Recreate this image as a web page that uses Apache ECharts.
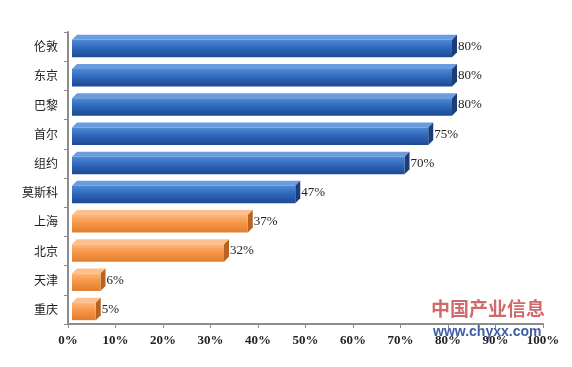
<!DOCTYPE html>
<html><head><meta charset="utf-8">
<script src="https://cdn.jsdelivr.net/npm/echarts@6/dist/echarts.min.js"></script>
<style>html,body{margin:0;padding:0;background:#fff}#c{width:572px;height:367px}</style>
</head><body><div id="c"></div>
<script>
const categories = ['伦敦','东京','巴黎','首尔','组约','莫斯科','上海','北京','天津','重庆'];
const values = [80, 80, 80, 75, 70, 47, 37, 32, 6, 5];
const groups = ['blue','blue','blue','blue','blue','blue','orange','orange','orange','orange'];
const xTicks = ['0%','10%','20%','30%','40%','50%','60%','70%','80%','90%','100%'];

const palette = {
  blue: {front: ['#4f8ad6','#2f68bc','#1d4a92'], top: '#6a9de0', side: '#1b3d78'},
  orange: {front: ['#fcb77c','#f79646','#e07e30'], top: '#fdc08c', side: '#b8631f'}
};
const chart = echarts.init(document.getElementById('c'));
const serif = '"Liberation Serif","Noto Sans CJK SC",serif';
chart.setOption({
  animation: false,
  grid: {left: 68, right: 29, top: 32, bottom: 43, containLabel: false},
  xAxis: {
    type: 'value', min: 0, max: 100, interval: 10,
    axisLine: {show: true, lineStyle: {color: '#8c8c8c', width: 2}},
    axisTick: {show: true, length: 4, lineStyle: {color: '#8c8c8c'}},
    splitLine: {show: false},
    axisLabel: {formatter: v => xTicks[Math.round(v / 10)], color: '#222', fontFamily: serif, fontWeight: 'bold', fontSize: 13, margin: 10}
  },
  yAxis: {
    type: 'category', data: categories, inverse: true,
    axisLine: {show: true, lineStyle: {color: '#8c8c8c', width: 2}},
    axisTick: {show: true, length: 4, lineStyle: {color: '#8c8c8c'}},
    axisLabel: {color: '#222', fontFamily: '"Noto Sans CJK SC",serif', fontSize: 12, margin: 10}
  },
  series: [{
    type: 'custom',
    data: values.map((v, i) => [v, i]),
    encode: {x: 0, y: 1},
    renderItem: function (params, api) {
      const idx = api.value(1);
      const val = api.value(0);
      const p0 = api.coord([0, idx]);
      const p1 = api.coord([val, idx]);
      const band = api.size([0, 1])[1];
      const d = 5, off = 4;
      const h = band * 0.6;
      const xa = p0[0] + off, xb = p1[0] + off;
      const yc = p0[1] + 2;
      const y0 = yc - h / 2, y1 = yc + h / 2;
      const c = palette[groups[params.dataIndex]];
      return {
        type: 'group',
        children: [
          {type: 'polygon', shape: {points: [[xa, y0], [xa + d, y0 - d], [xb + d, y0 - d], [xb, y0]]}, style: {fill: c.top}},
          {type: 'polygon', shape: {points: [[xb, y0], [xb + d, y0 - d], [xb + d, y1 - d], [xb, y1]]}, style: {fill: c.side}},
          {type: 'rect', shape: {x: xa, y: y0, width: xb - xa, height: h},
            style: {fill: new echarts.graphic.LinearGradient(0, 0, 0, 1, [
              {offset: 0, color: c.front[0]}, {offset: 0.45, color: c.front[1]}, {offset: 1, color: c.front[2]}])}},
          {type: 'text', style: {text: val + '%', x: xb + d + 1, y: yc - 2, verticalAlign: 'middle', fill: '#222', font: '13px ' + serif}}
        ]
      };
    }
  }],
  graphic: [
    {type: 'text', left: 431, top: 299, style: {text: '中国产业信息', font: 'bold 19px "Noto Sans CJK SC"', fill: 'rgba(200,80,80,0.85)'}},
    {type: 'text', left: 433, top: 325, style: {text: 'www.chyxx.com', font: 'bold 14px "Liberation Sans",Arial', fill: 'rgba(40,75,160,0.9)'}}
  ]
});
</script></body></html>
